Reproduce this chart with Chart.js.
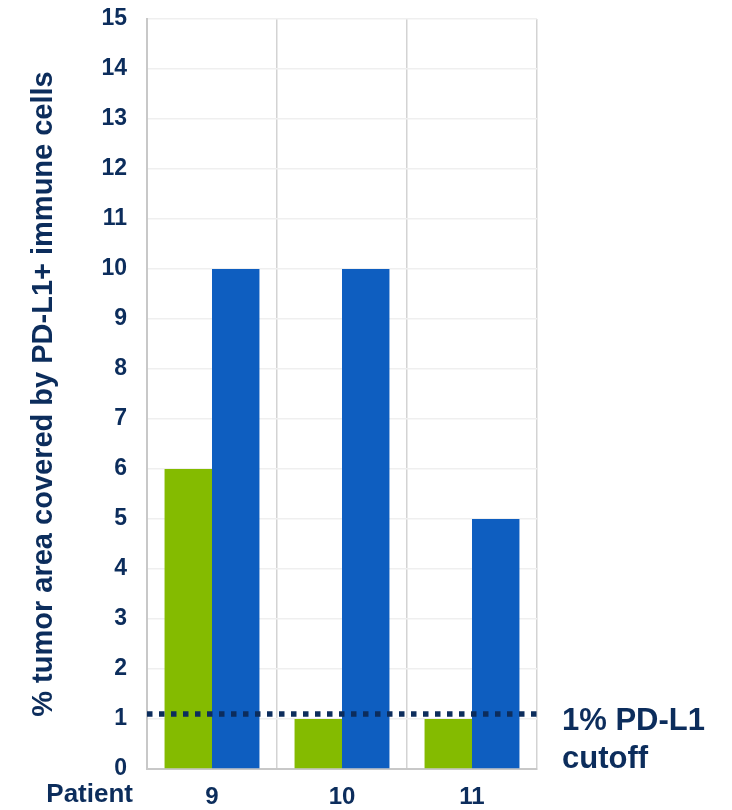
<!DOCTYPE html>
<html>
<head>
<meta charset="utf-8">
<script src="https://cdn.jsdelivr.net/npm/chart.js@4/dist/chart.umd.min.js"></script>
<style>
  html, body { margin: 0; padding: 0; background: #fff; }
  #wrap { width: 732px; height: 810px; }
</style>
</head>
<body>
<div id="wrap"><canvas id="myChart"></canvas></div>
<script>
// patients and their PD-L1+ immune cell coverage
const patients = ['9', '10', '11'];
const baseline = [6, 1, 1];
const onTreatment = [10, 10, 5];
const yTicks = [0, 1, 2, 3, 4, 5, 6, 7, 8, 9, 10, 11, 12, 13, 14, 15];
const cutoff = 1.1;

const navy = '#0c2d5c';
const font = 'Liberation Sans, Arial, sans-serif';

// dotted cutoff line plus the side text
const cutoffPlugin = {
    id: 'cutoff',
    afterDatasetsDraw(chart) {
        const ctx = chart.ctx;
        const area = chart.chartArea;
        const y = chart.scales.y.getPixelForValue(cutoff);
        ctx.save();
        ctx.strokeStyle = navy;
        ctx.lineWidth = 5.5;
        ctx.setLineDash([5.5, 6.5]);
        ctx.beginPath();
        ctx.moveTo(area.left, y);
        ctx.lineTo(area.right, y);
        ctx.stroke();
        ctx.setLineDash([]);

        ctx.fillStyle = navy;
        ctx.font = 'bold 31px ' + font;
        ctx.textAlign = 'left';
        ctx.textBaseline = 'alphabetic';
        ctx.fillText('1% PD-L1', area.right + 25, y + 16);
        ctx.fillText('cutoff', area.right + 25, y + 54);

        ctx.font = 'bold 26px ' + font;
        ctx.textAlign = 'right';
        ctx.textBaseline = 'middle';
        ctx.fillText('Patient', 133, area.bottom + 26);
        ctx.restore();
    }
};

const ctx = document.getElementById('myChart').getContext('2d');
const myChart = new Chart(ctx, {
    type: 'bar',
    data: {
        labels: patients,
        datasets: [{
            label: 'Baseline',
            data: baseline,
            backgroundColor: '#84bb00'
        }, {
            label: 'On treatment',
            data: onTreatment,
            backgroundColor: '#0e5ec0'
        }]
    },
    options: {
        responsive: true,
        maintainAspectRatio: false,
        animation: false,
        layout: { padding: { top: 19, right: 195, left: 27, bottom: 0 } },
        plugins: {
            legend: { display: false },
            tooltip: { enabled: false }
        },
        datasets: {
            bar: { categoryPercentage: 0.73, barPercentage: 1.0 }
        },
        scales: {
            x: {
                grid: {
                    offset: true,
                    drawTicks: false,
                    color: (c) => c.index === patients.length ? '#e4e4e4' : '#d3d3d3',
                    lineWidth: 1.5
                },
                border: { color: '#c8c8c8', width: 2 },
                ticks: {
                    color: navy,
                    font: { family: font, size: 24, weight: 'bold' },
                    padding: 14
                },
                afterFit: (scale) => { scale.height = 41; }
            },
            y: {
                min: 0,
                max: 15,
                afterBuildTicks: (scale) => { scale.ticks = yTicks.map(v => ({ value: v })); },
                grid: { color: '#efefef', lineWidth: 1.5, drawTicks: false },
                border: { color: '#c8c8c8', width: 2 },
                ticks: {
                    color: navy,
                    font: { family: font, size: 23, weight: 'bold' },
                    padding: 20
                },
                title: {
                    display: true,
                    text: '% tumor area covered by PD-L1+ immune cells',
                    color: navy,
                    font: { family: font, size: 29, weight: 'bold' },
                    padding: 0
                },
                afterFit: (scale) => {
                    scale.width = 147 - 27;
                    scale.paddingTop = 0;
                    scale.paddingBottom = 0;
                }
            }
        }
    },
    plugins: [cutoffPlugin]
});
</script>
</body>
</html>
